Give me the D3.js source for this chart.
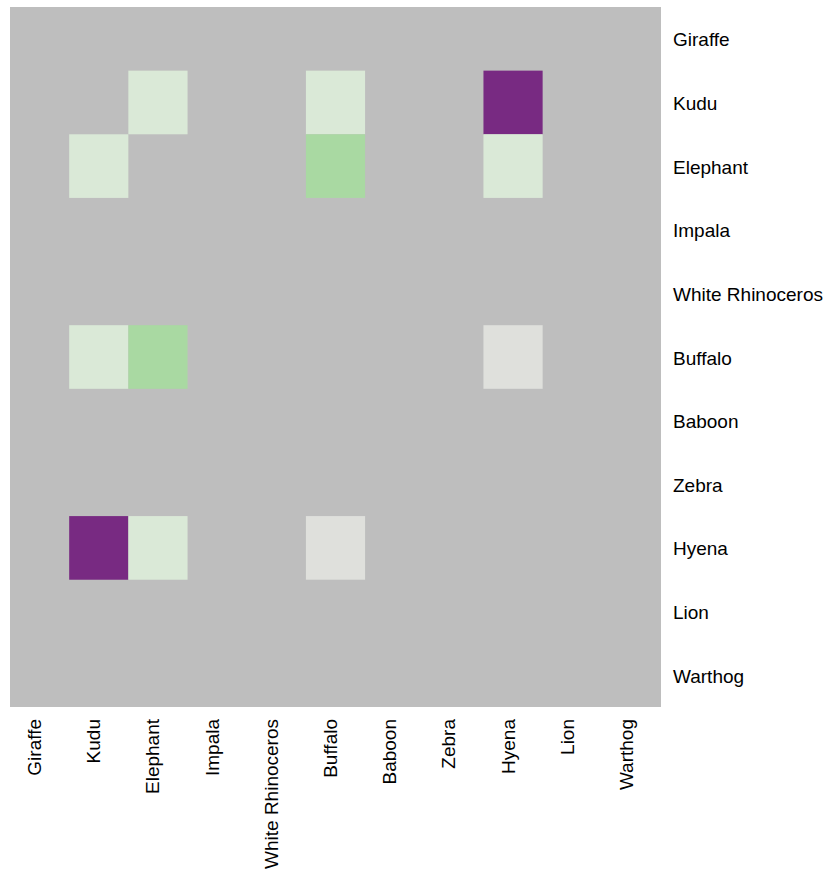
<!DOCTYPE html>
<html>
<head>
<meta charset="utf-8">
<script src="https://cdn.jsdelivr.net/npm/d3@7"></script>
<style>
  html, body { margin: 0; padding: 0; background: #ffffff; }
  svg text { font-family: "Liberation Sans", Arial, sans-serif; fill: #000; }
</style>
</head>
<body>
<svg id="chart" width="827" height="871"></svg>
<script>
// Categories (same order on both axes)
const animals = ["Giraffe", "Kudu", "Elephant", "Impala", "White Rhinoceros",
                 "Buffalo", "Baboon", "Zebra", "Hyena", "Lion", "Warthog"];

// Non-missing cells: row animal, column animal, value
const cellRows = ["Kudu", "Kudu", "Kudu", "Elephant", "Elephant", "Elephant",
                  "Buffalo", "Buffalo", "Buffalo", "Hyena", "Hyena", "Hyena"];
const cellCols = ["Elephant", "Buffalo", "Hyena", "Kudu", "Buffalo", "Hyena",
                  "Kudu", "Elephant", "Hyena", "Kudu", "Elephant", "Buffalo"];
const cellValues = [0.2, 0.2, -0.8, 0.2, 0.4, 0.2,
                    0.2, 0.4, 0.05, -0.8, 0.2, 0.05];

// Colour scale stops
const colorStops = [-0.8, 0.05, 0.2, 0.4];
const colorRange = ["#782a82", "#dfe0dc", "#dae9d7", "#a9d9a2"];
const missingColor = "#bebebe";

(function () {
  const svg = d3.select("#chart");
  const mLeft = 10, mRight = 661, mTop = 7, mBottom = 707;

  const x = d3.scaleBand().domain(animals).range([mLeft, mRight]).padding(0);
  const y = d3.scaleBand().domain(animals).range([mTop, mBottom]).padding(0);
  const color = d3.scaleLinear().domain(colorStops).range(colorRange);

  // Missing-value background
  svg.append("rect")
    .attr("x", mLeft).attr("y", mTop)
    .attr("width", mRight - mLeft).attr("height", mBottom - mTop)
    .attr("fill", missingColor);

  const cells = cellRows.map((r, i) => ({ row: r, col: cellCols[i], value: cellValues[i] }));

  svg.append("g").selectAll("rect")
    .data(cells)
    .join("rect")
    .attr("x", d => x(d.col))
    .attr("y", d => y(d.row))
    .attr("width", x.bandwidth())
    .attr("height", y.bandwidth())
    .attr("fill", d => color(d.value));

  // Right-side row labels
  svg.append("g").selectAll("text")
    .data(animals)
    .join("text")
    .attr("x", mRight + 12)
    .attr("y", d => y(d) + y.bandwidth() / 2 + 7.5)
    .attr("font-size", "19px")
    .text(d => d);

  // Bottom column labels, rotated
  svg.append("g").selectAll("text")
    .data(animals)
    .join("text")
    .attr("transform", d => `translate(${x(d) + x.bandwidth() / 2 + 1.5},${mBottom + 12}) rotate(-90)`)
    .attr("text-anchor", "end")
    .attr("font-size", "19px")
    .text(d => d);
})();
</script>
</body>
</html>
